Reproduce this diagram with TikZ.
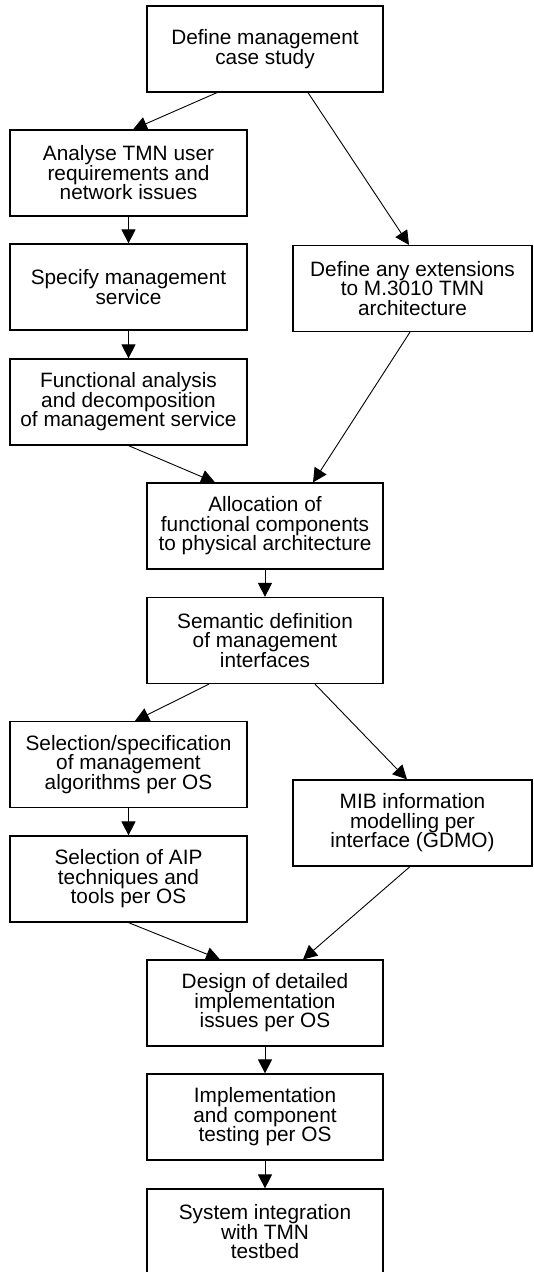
\documentclass[tikz,border=0pt]{standalone}
\usepackage{fontspec}
\setmainfont{Liberation Sans}
\usetikzlibrary{arrows.meta,calc}
\begin{document}
\begin{tikzpicture}[x=1pt,y=-1pt,
  box/.style={draw,line width=1.2pt,rectangle,minimum height=86pt,inner sep=0pt,align=center,
    font=\fontsize{20.8}{19.5}\selectfont},
  lbox/.style={box,minimum width=237pt},
  rbox/.style={box,minimum width=239pt},
  cbox/.style={box,minimum width=236pt},
  conn/.style={line width=0.9pt,-{Triangle[length=14pt,width=14pt]}}]
\useasboundingbox (0,0) rectangle (533,1272);
\node[cbox] (top) at (265,49) {Define management\\case study};
\node[lbox] (analyse) at (128.5,173) {Analyse TMN user\\requirements and\\network issues};
\node[lbox] (specify) at (128.5,287) {Specify management\\service};
\node[rbox] (ext) at (412.5,288.5) {Define any extensions\\to M.3010 TMN\\architecture};
\node[lbox] (func) at (128.5,402) {Functional analysis\\and decomposition\\of management service};
\node[cbox] (alloc) at (265,526) {Allocation of\\functional components\\to physical architecture};
\node[cbox] (sem) at (265,640.5) {Semantic definition\\of management\\interfaces};
\node[lbox] (sel) at (128.5,764.5) {Selection/specification\\of management\\algorithms per OS};
\node[rbox] (mib) at (412.5,823) {MIB information\\modelling per\\interface (GDMO)};
\node[lbox] (aip) at (128.5,879) {Selection of AIP\\techniques and\\tools per OS};
\node[cbox] (design) at (265,1003) {Design of detailed\\implementation\\issues per OS};
\node[cbox] (impl) at (265,1117) {Implementation\\and component\\testing per OS};
\node[cbox] (sys) at (265,1232) {System integration\\with TMN\\testbed};
\draw[conn] ($(top.south)+(-48,0)$) -- ($(analyse.north)+(4.5,0)$);
\draw[conn] ($(top.south)+(43,0)$) -- ($(ext.north)+(-3.5,0)$);
\draw[conn] (analyse.south) -- (specify.north);
\draw[conn] (specify.south) -- (func.north);
\draw[conn] (func.south) -- ($(alloc.north)+(-50,0)$);
\draw[conn] ($(ext.south)+(-2.5,0)$) -- ($(alloc.north)+(48,0)$);
\draw[conn] (alloc.south) -- (sem.north);
\draw[conn] ($(sem.south)+(-56,0)$) -- ($(sel.north)+(6.5,0)$);
\draw[conn] ($(sem.south)+(50,0)$) -- ($(mib.north)+(-5.5,0)$);
\draw[conn] (sel.south) -- (aip.north);
\draw[conn] (aip.south) -- ($(design.north)+(-45,0)$);
\draw[conn] ($(mib.south)+(-2.5,0)$) -- ($(design.north)+(38,0)$);
\draw[conn] (design.south) -- (impl.north);
\draw[conn] (impl.south) -- (sys.north);
\end{tikzpicture}
\end{document}
